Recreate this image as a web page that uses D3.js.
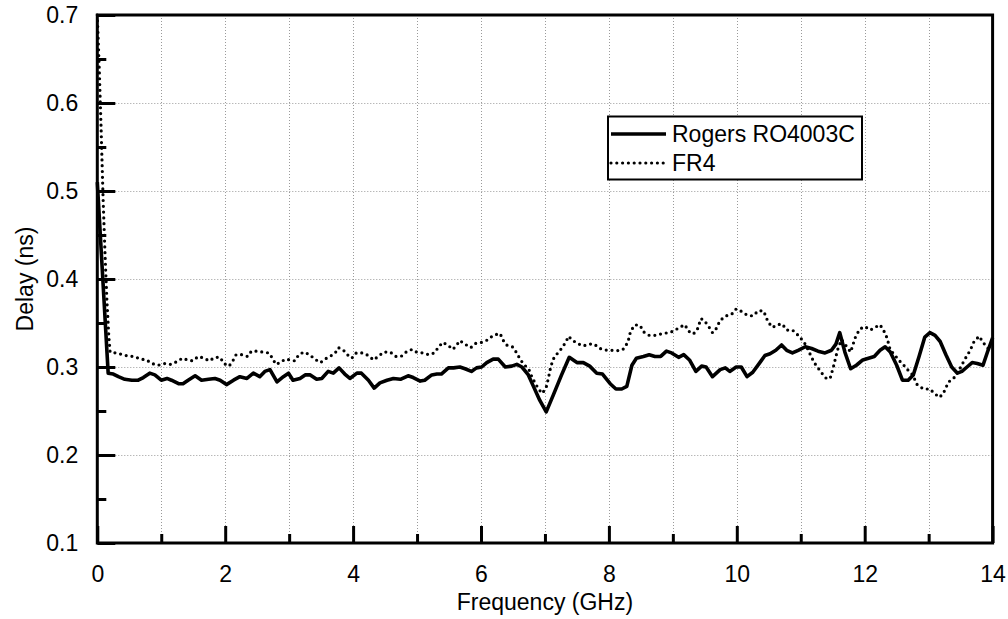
<!DOCTYPE html>
<html>
<head>
<meta charset="utf-8">
<script src="https://cdn.jsdelivr.net/npm/d3@7"></script>
<style>
  html, body { margin: 0; padding: 0; background: #fff; }
  svg { display: block; }
  text { font-family: "Liberation Sans", Arial, sans-serif; fill: #000; }
</style>
</head>
<body>
<svg id="chart" width="1008" height="619"></svg>
<script>
// Measured group delay of two transmission-line substrates (frequency in GHz, delay in ns)
const rogersFreq = [0.00,0.17,0.25,0.33,0.43,0.54,0.64,0.72,0.82,0.90,1.00,1.09,1.16,1.27,1.34,1.42,1.53,1.63,1.74,1.84,1.92,2.02,2.13,2.23,2.34,2.44,2.54,2.62,2.70,2.81,2.91,2.99,3.06,3.17,3.25,3.33,3.43,3.51,3.61,3.69,3.78,3.87,3.95,4.06,4.13,4.24,4.33,4.42,4.53,4.63,4.74,4.86,4.94,5.05,5.12,5.23,5.31,5.38,5.49,5.57,5.67,5.75,5.85,5.93,6.01,6.09,6.19,6.27,6.38,6.48,6.56,6.64,6.74,6.82,6.92,7.02,7.13,7.26,7.38,7.50,7.60,7.70,7.81,7.90,8.02,8.11,8.20,8.28,8.36,8.43,8.54,8.63,8.72,8.81,8.90,8.98,9.09,9.17,9.26,9.36,9.45,9.52,9.62,9.74,9.82,9.89,9.99,10.07,10.16,10.25,10.36,10.44,10.52,10.61,10.70,10.78,10.87,10.96,11.07,11.17,11.27,11.38,11.48,11.55,11.61,11.69,11.78,11.87,11.97,12.06,12.15,12.24,12.32,12.40,12.50,12.59,12.68,12.76,12.85,12.94,13.02,13.10,13.18,13.27,13.36,13.45,13.52,13.60,13.68,13.76,13.85,13.92,14.00];
const rogersDelay = [0.510,0.293,0.292,0.289,0.286,0.285,0.285,0.288,0.293,0.291,0.285,0.287,0.285,0.281,0.281,0.285,0.290,0.285,0.286,0.287,0.285,0.280,0.285,0.289,0.287,0.293,0.289,0.295,0.297,0.283,0.289,0.293,0.285,0.287,0.291,0.291,0.286,0.287,0.295,0.293,0.299,0.292,0.287,0.293,0.293,0.285,0.276,0.282,0.285,0.287,0.286,0.290,0.288,0.284,0.285,0.291,0.292,0.292,0.299,0.299,0.300,0.298,0.295,0.299,0.300,0.305,0.309,0.309,0.300,0.301,0.303,0.300,0.291,0.278,0.262,0.249,0.268,0.291,0.311,0.305,0.305,0.301,0.293,0.292,0.281,0.275,0.275,0.278,0.302,0.310,0.312,0.314,0.312,0.312,0.318,0.316,0.311,0.314,0.308,0.295,0.301,0.300,0.289,0.297,0.299,0.295,0.300,0.300,0.289,0.294,0.305,0.313,0.315,0.319,0.325,0.319,0.316,0.319,0.323,0.321,0.318,0.316,0.319,0.326,0.339,0.317,0.298,0.302,0.308,0.310,0.312,0.319,0.323,0.317,0.302,0.285,0.285,0.291,0.312,0.334,0.339,0.336,0.329,0.314,0.300,0.293,0.295,0.300,0.305,0.304,0.302,0.317,0.333];

const fr4Freq = [0.00,0.03,0.06,0.09,0.12,0.15,0.18,0.20,0.29,0.40,0.48,0.57,0.68,0.77,0.85,0.95,1.06,1.15,1.24,1.33,1.41,1.49,1.58,1.67,1.75,1.84,1.92,1.98,2.06,2.12,2.17,2.26,2.35,2.41,2.49,2.59,2.68,2.74,2.79,2.86,2.94,3.01,3.09,3.15,3.23,3.32,3.40,3.49,3.56,3.65,3.72,3.77,3.85,3.91,3.98,4.05,4.15,4.24,4.32,4.40,4.48,4.58,4.67,4.75,4.83,4.92,4.99,5.09,5.18,5.27,5.33,5.40,5.48,5.56,5.61,5.67,5.75,5.84,5.92,6.01,6.11,6.19,6.30,6.34,6.40,6.49,6.56,6.61,6.66,6.75,6.80,6.86,6.91,6.96,7.02,7.05,7.09,7.13,7.19,7.27,7.33,7.37,7.42,7.50,7.60,7.69,7.77,7.86,7.97,8.07,8.17,8.24,8.30,8.34,8.41,8.49,8.54,8.63,8.73,8.84,8.93,9.02,9.10,9.19,9.24,9.32,9.38,9.44,9.49,9.56,9.62,9.66,9.74,9.83,9.92,9.99,10.08,10.16,10.25,10.34,10.42,10.49,10.56,10.63,10.71,10.78,10.87,10.94,11.02,11.08,11.16,11.21,11.26,11.33,11.40,11.46,11.51,11.55,11.59,11.64,11.71,11.78,11.85,11.92,12.00,12.09,12.16,12.24,12.30,12.35,12.40,12.45,12.53,12.60,12.67,12.75,12.82,12.92,13.02,13.09,13.17,13.23,13.31,13.39,13.48,13.56,13.65,13.71,13.79,13.85,13.93,14.00];
const fr4Delay = [0.700,0.640,0.570,0.493,0.430,0.376,0.335,0.317,0.316,0.314,0.3125,0.312,0.309,0.308,0.304,0.302,0.304,0.303,0.306,0.310,0.308,0.307,0.312,0.310,0.307,0.311,0.311,0.304,0.301,0.307,0.314,0.314,0.312,0.318,0.318,0.317,0.316,0.310,0.303,0.305,0.309,0.308,0.307,0.314,0.317,0.314,0.309,0.305,0.309,0.3125,0.316,0.322,0.319,0.314,0.310,0.316,0.316,0.313,0.308,0.3125,0.317,0.317,0.312,0.312,0.317,0.320,0.317,0.316,0.314,0.316,0.322,0.328,0.325,0.320,0.324,0.330,0.326,0.322,0.327,0.328,0.331,0.336,0.338,0.331,0.325,0.323,0.316,0.309,0.304,0.297,0.288,0.280,0.274,0.270,0.277,0.286,0.300,0.309,0.315,0.322,0.329,0.335,0.331,0.327,0.324,0.326,0.326,0.321,0.319,0.319,0.3185,0.321,0.329,0.341,0.348,0.347,0.340,0.336,0.336,0.338,0.339,0.341,0.345,0.348,0.341,0.3375,0.342,0.355,0.353,0.346,0.339,0.341,0.353,0.358,0.360,0.366,0.363,0.359,0.358,0.364,0.3636,0.351,0.345,0.348,0.349,0.342,0.342,0.3375,0.331,0.325,0.3125,0.305,0.300,0.293,0.287,0.287,0.300,0.312,0.323,0.331,0.324,0.317,0.333,0.343,0.346,0.342,0.345,0.348,0.341,0.333,0.319,0.3155,0.308,0.303,0.297,0.291,0.280,0.275,0.275,0.270,0.2655,0.270,0.283,0.287,0.297,0.308,0.319,0.329,0.335,0.328,0.321,0.319];

const xMajorTicks = [0, 2, 4, 6, 8, 10, 12, 14];
const xMinorTicks = [1, 3, 5, 7, 9, 11, 13];
const yMajorTicks = [0.1, 0.2, 0.3, 0.4, 0.5, 0.6, 0.7];
const yMinorTicks = [0.15, 0.25, 0.35, 0.45, 0.55, 0.65];
const xGrid = [1, 2, 3, 4, 5, 6, 7, 8, 9, 10, 11, 12, 13];
const yGrid = [0.2, 0.3, 0.4, 0.5, 0.6];

const seriesNames = ["Rogers RO4003C", "FR4"];
const xTitle = "Frequency (GHz)";
const yTitle = "Delay (ns)";

const svg = d3.select("#chart");
const plot = { left: 97.3, right: 992.6, top: 15, bottom: 543 };
const FONT = 23;

const x = d3.scaleLinear().domain([0, 14]).range([plot.left, plot.right]);
const y = d3.scaleLinear().domain([0.1, 0.7]).range([plot.bottom, plot.top]);

// grid
const grid = svg.append("g").attr("stroke", "#9a9a9a").attr("stroke-width", 1)
  .attr("stroke-dasharray", "1 2").attr("fill", "none");
grid.selectAll("line.v").data(xGrid).join("line").attr("class", "v")
  .attr("x1", d => Math.round(x(d)) + 0.5).attr("x2", d => Math.round(x(d)) + 0.5)
  .attr("y1", plot.top).attr("y2", plot.bottom);
grid.selectAll("line.h").data(yGrid).join("line").attr("class", "h")
  .attr("y1", d => Math.round(y(d)) + 0.5).attr("y2", d => Math.round(y(d)) + 0.5)
  .attr("x1", plot.left).attr("x2", plot.right);

// data lines
const rogers = rogersFreq.map((f, i) => [f, rogersDelay[i]]);
const fr4 = fr4Freq.map((f, i) => [f, fr4Delay[i]]);
const line = d3.line().x(d => x(d[0])).y(d => y(d[1]));

svg.append("path").datum(fr4).attr("d", line)
  .attr("fill", "none").attr("stroke", "#000").attr("stroke-width", 3.2)
  .attr("stroke-linecap", "round").attr("stroke-linejoin", "round")
  .attr("stroke-dasharray", "0 5.8");
svg.append("path").datum(rogers).attr("d", line)
  .attr("fill", "none").attr("stroke", "#000").attr("stroke-width", 3.6)
  .attr("stroke-linejoin", "round");

// axes with inward ticks
function styleAxis(g) {
  g.select(".domain").remove();
  g.selectAll(".tick line").attr("stroke", "#000").attr("stroke-width", 3);
  g.selectAll(".tick text").style("font-size", FONT + "px")
    .style("font-family", '"Liberation Sans", Arial, sans-serif');
}
svg.append("g").attr("transform", `translate(0,${plot.bottom})`)
  .call(d3.axisBottom(x).tickValues(xMajorTicks).tickSize(-17).tickPadding(22.5).tickFormat(d3.format("d")))
  .call(styleAxis);
svg.append("g").attr("transform", `translate(0,${plot.bottom})`)
  .call(d3.axisBottom(x).tickValues(xMinorTicks).tickSize(-9).tickFormat(""))
  .call(styleAxis);
svg.append("g").attr("transform", `translate(${plot.left},0)`)
  .call(d3.axisLeft(y).tickValues(yMajorTicks).tickSize(-18).tickPadding(19).tickFormat(d3.format(".1f")))
  .call(styleAxis);
svg.append("g").attr("transform", `translate(${plot.left},0)`)
  .call(d3.axisLeft(y).tickValues(yMinorTicks).tickSize(-9).tickFormat(""))
  .call(styleAxis);

// frame
svg.append("rect").attr("x", plot.left).attr("y", plot.top)
  .attr("width", plot.right - plot.left).attr("height", plot.bottom - plot.top)
  .attr("fill", "none").attr("stroke", "#000").attr("stroke-width", 3);

// titles
svg.append("text").attr("x", (plot.left + plot.right) / 2).attr("y", 610)
  .attr("text-anchor", "middle").style("font-size", FONT + "px").text(xTitle);
svg.append("text").attr("transform", `translate(33,${(plot.top + plot.bottom) / 2}) rotate(-90)`)
  .attr("text-anchor", "middle").style("font-size", FONT + "px").text(yTitle);

// legend
const lg = svg.append("g");
lg.append("rect").attr("x", 608).attr("y", 116.5).attr("width", 254).attr("height", 63)
  .attr("fill", "#fff").attr("stroke", "#000").attr("stroke-width", 2);
const legendRows = [
  { name: seriesNames[0], y: 134, dash: null, w: 3.6, cap: "butt" },
  { name: seriesNames[1], y: 163, dash: "0 5.8", w: 3.2, cap: "round" }
];
legendRows.forEach(r => {
  lg.append("line").attr("x1", 611).attr("x2", 666).attr("y1", r.y).attr("y2", r.y)
    .attr("stroke", "#000").attr("stroke-width", r.w).attr("stroke-linecap", r.cap)
    .attr("stroke-dasharray", r.dash);
  lg.append("text").attr("x", 672).attr("y", r.y + 8).style("font-size", FONT + "px").text(r.name);
});
</script>
</body>
</html>
